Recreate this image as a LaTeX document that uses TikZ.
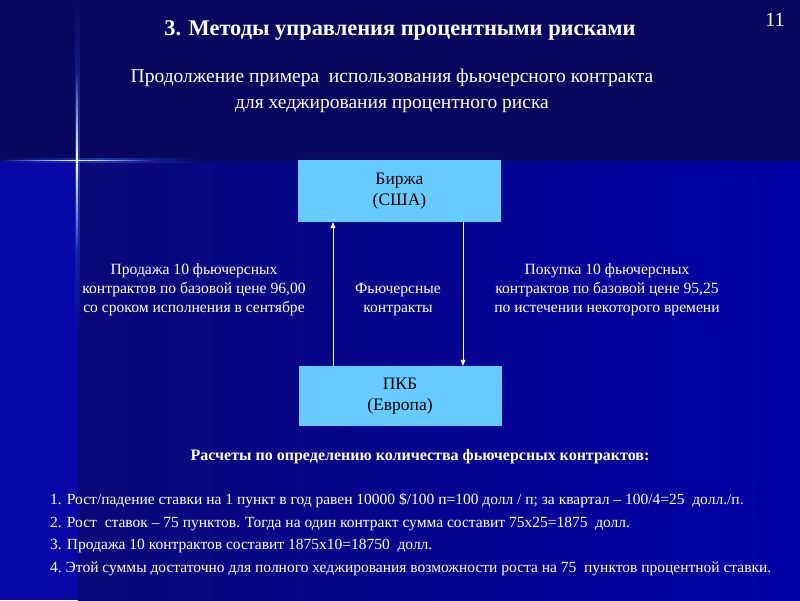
\documentclass[tikz,border=0pt]{standalone}
\usepackage{fontspec}
\setmainfont{Liberation Serif}
\usetikzlibrary{arrows.meta,fadings}
\definecolor{topbg}{HTML}{08085E}
\definecolor{leftbg}{HTML}{0808A6}
\definecolor{midbg}{HTML}{0A0A7A}
\definecolor{rightbg}{HTML}{0202A6}
\definecolor{boxfill}{HTML}{66CCFF}
\definecolor{glow}{HTML}{4070FF}
\tikzfading[name=fadelr, left color=transparent!100, right color=transparent!100, middle color=transparent!0]
\tikzfading[name=fadetb, top color=transparent!100, bottom color=transparent!100, middle color=transparent!0]
\tikzset{
  boxnode/.style={draw=none, fill=boxfill, minimum width=203pt, minimum height=62pt, align=center, text=black, font=\fontsize{17.5}{21}\selectfont, inner sep=0pt},
  lbl/.style={text=white, align=center, font=\fontsize{15.6}{19}\selectfont, inner sep=0pt},
  listline/.style={text=white, anchor=west, font=\fontsize{15.5}{18}\selectfont, inner sep=0pt},
  conn/.style={draw=white, line width=0.9pt, -{Triangle[width=5pt,length=6pt]}},
}
\begin{document}
\begin{tikzpicture}[x=1pt,y=-1pt]
\useasboundingbox (0,0) rectangle (800,600);
% background
\fill[topbg] (0,0) rectangle (800,161);
\fill[leftbg] (0,161) rectangle (78,600);
\shade[left color=midbg, right color=rightbg] (78,161) rectangle (800,600);
% sparkle
\fill[glow, path fading=fadelr, opacity=0.45] (0,158) rectangle (200,163);
\fill[glow, path fading=fadetb, opacity=0.45] (74.5,0) rectangle (79.5,330);
\fill[white, path fading=fadelr] (0,159.5) rectangle (155,161);
\fill[white, path fading=fadetb] (76.3,70) rectangle (77.7,252);
% titles
\node[text=white, font=\bfseries\fontsize{22.4}{26}\selectfont] (title) at (400,30) {3. Методы управления процентными рисками};
\node[text=white, font=\fontsize{20}{24}\selectfont] (page) at (775,20) {11};
\node[text=white, align=center, font=\fontsize{19.5}{26}\selectfont] (subtitle) at (392,91) {Продолжение примера\ \ использования фьючерсного контракта\\для хеджирования процентного риска};
% boxes
\node[boxnode] (birzha) at (399.5,191) {Биржа\\(США)};
\node[boxnode, minimum height=60pt] (pkb) at (400,396) {ПКБ\\(Европа)};
% connectors
\draw[conn] (pkb.north -| 333,0) -- (birzha.south -| 333,0);
\draw[conn] (birzha.south -| 463,0) -- (pkb.north -| 463,0);
% labels
\node[lbl] (sell) at (194,290) {Продажа 10 фьючерсных\\контрактов по базовой цене 96,00\\со сроком исполнения в сентябре};
\node[lbl] (fut) at (398,300) {Фьючерсные\\контракты};
\node[lbl] (buy) at (607,290) {Покупка 10 фьючерсных\\контрактов по базовой цене 95,25\\по истечении некоторого времени};
% calculations
\node[text=white, font=\bfseries\fontsize{16}{18}\selectfont] (calc) at (420,457) {Расчеты по определению количества фьючерсных контрактов:};
\node[listline] (l1) at (50,501) {1. Рост/падение ставки на 1 пункт в год равен 10000 \$/100 п=100 долл / п; за квартал – 100/4=25 \ долл./п.};
\node[listline] (l2) at (50,524) {2. Рост\ \ ставок – 75 пунктов. Тогда на один контракт сумма составит 75х25=1875\ \ долл.};
\node[listline] (l3) at (50,546) {3. Продажа 10 контрактов составит 1875х10=18750\ \ долл.};
\node[listline] (l4) at (50,569) {4.\ Этой суммы достаточно для полного хеджирования возможности роста на 75\ \ пунктов процентной ставки.};
\end{tikzpicture}
\end{document}
